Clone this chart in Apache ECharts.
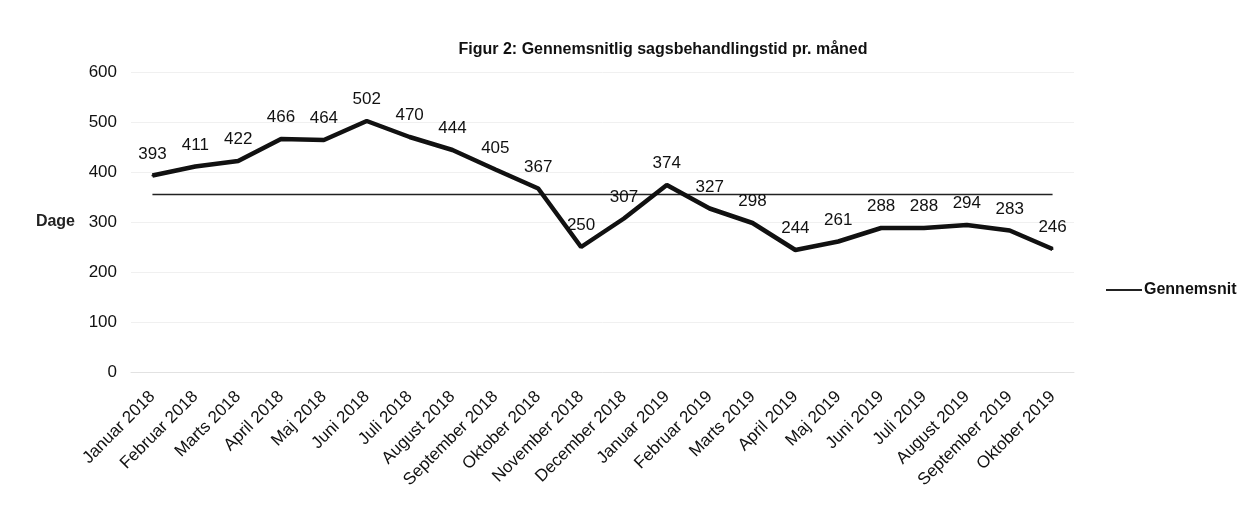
<!DOCTYPE html>
<html>
<head>
<meta charset="utf-8">
<script src="https://cdn.jsdelivr.net/npm/echarts@6/dist/echarts.min.js"></script>
<style>
  html, body { margin: 0; padding: 0; background: #fff; }
  #main { width: 1242px; height: 505px; }
</style>
</head>
<body>
<div id="main"></div>
<script>
// maaneder (x-akse)
var maaneder = ['Januar 2018', 'Februar 2018', 'Marts 2018', 'April 2018', 'Maj 2018', 'Juni 2018',
  'Juli 2018', 'August 2018', 'September 2018', 'Oktober 2018', 'November 2018', 'December 2018',
  'Januar 2019', 'Februar 2019', 'Marts 2019', 'April 2019', 'Maj 2019', 'Juni 2019',
  'Juli 2019', 'August 2019', 'September 2019', 'Oktober 2019'];

// sagsbehandlingstid i dage
var dage = [393, 411, 422, 466, 464, 502, 470, 444, 405, 367, 250, 307,
  374, 327, 298, 244, 261, 288, 288, 294, 283, 246];

// gennemsnit (vandret linje)
var gennemsnitVaerdi = 355;
var gennemsnit = [];
for (var i = 0; i < maaneder.length; i++) {
  gennemsnit.push(gennemsnitVaerdi);
}

var yTicks = [0, 100, 200, 300, 400, 500, 600];

var font = 'Liberation Sans, Arial, sans-serif';
var myChart = echarts.init(document.getElementById('main'));
var option = {
  backgroundColor: '#fff',
  animation: false,
  title: {
    text: 'Figur 2: Gennemsnitlig sagsbehandlingstid pr. måned',
    left: 658,
    textAlign: 'center',
    top: 37,
    textStyle: { fontFamily: font, fontSize: 16, fontWeight: 'bold', color: '#111' }
  },
  legend: {
    data: ['Gennemsnit'],
    orient: 'vertical',
    left: 1100,
    top: 277,
    itemWidth: 36,
    itemHeight: 2,
    itemGap: 4,
    textStyle: { fontFamily: font, fontSize: 16, fontWeight: 'bold', color: '#111', padding: [0, 0, 0, -3] }
  },
  grid: {
    left: 131,
    right: 168,
    top: 72,
    bottom: 133,
    containLabel: false
  },
  xAxis: {
    type: 'category',
    data: maaneder,
    boundaryGap: true,
    axisLine: { lineStyle: { color: '#e2e2e2' } },
    axisTick: { show: false },
    axisLabel: {
      rotate: 45,
      interval: 0,
      margin: 22,
      fontFamily: font,
      fontSize: 17,
      color: '#111'
    }
  },
  yAxis: {
    type: 'value',
    min: yTicks[0],
    max: yTicks[yTicks.length - 1],
    interval: 100,
    name: 'Dage',
    nameLocation: 'middle',
    nameGap: 56,
    nameRotate: 0,
    nameTextStyle: { fontFamily: font, fontSize: 16, fontWeight: 'bold', color: '#222' },
    axisLine: { show: false },
    axisTick: { show: false },
    splitLine: { lineStyle: { color: '#f0f0f0' } },
    axisLabel: { fontFamily: font, fontSize: 17, color: '#111', margin: 14 }
  },
  series: [
    {
      name: 'Sagsbehandlingstid',
      type: 'line',
      data: dage,
      symbol: 'circle',
      symbolSize: 2,
      showSymbol: true,
      lineStyle: { color: '#111', width: 4.5 },
      itemStyle: { color: '#111' },
      label: {
        show: true,
        position: 'top',
        distance: 12,
        fontFamily: font,
        fontSize: 17,
        color: '#111'
      },
      z: 3
    },
    {
      name: 'Gennemsnit',
      type: 'line',
      data: gennemsnit,
      symbol: 'none',
      lineStyle: { color: '#222', width: 1.5 },
      itemStyle: { color: '#222' },
      z: 2
    }
  ]
};
myChart.setOption(option);
</script>
</body>
</html>
